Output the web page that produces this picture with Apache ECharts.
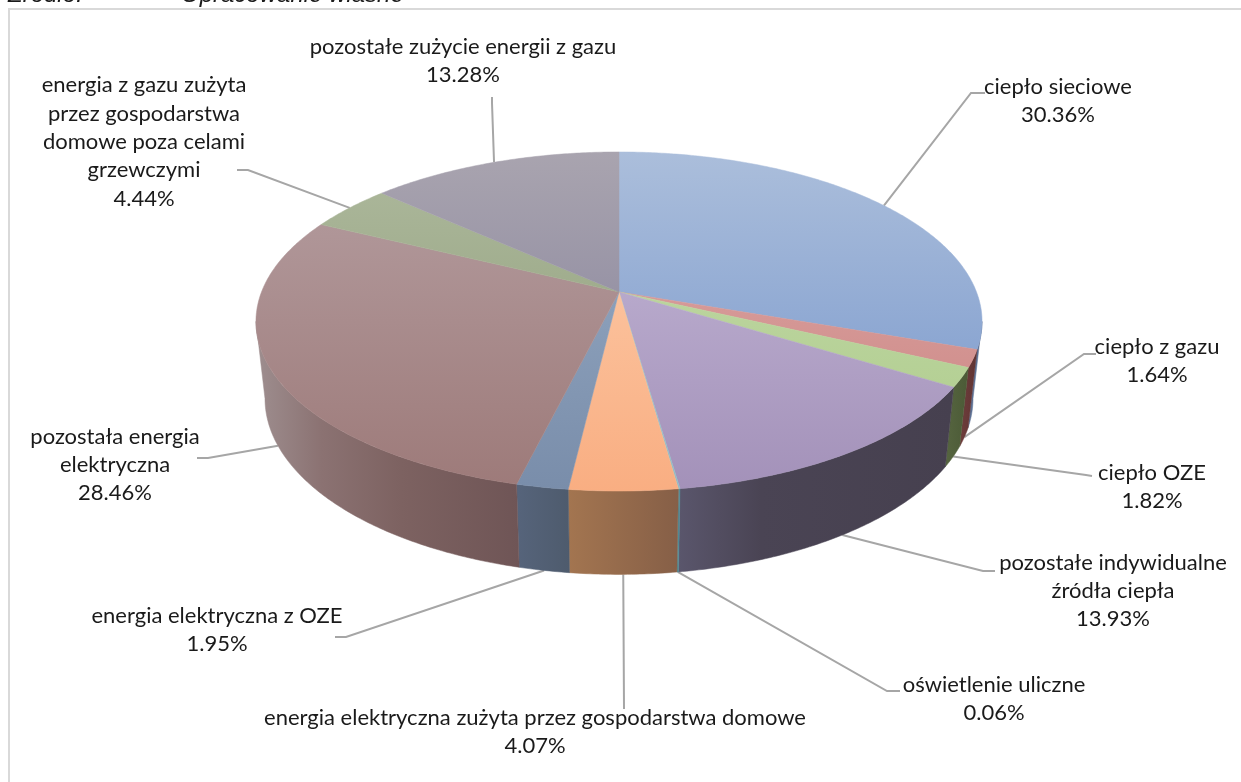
<!DOCTYPE html>
<html>
<head>
<meta charset="utf-8">
<style>
  html, body { margin: 0; padding: 0; background: #fff; overflow: hidden; }
  #chart { width: 1241px; height: 782px; }
</style>
<script src="https://cdn.jsdelivr.net/npm/echarts@6/dist/echarts.min.js"></script>
</head>
<body>
<div id="chart"></div>
<script>
// Udział poszczególnych nośników w zużyciu energii [%]
const categories = [
  'ciepło sieciowe',
  'ciepło z gazu',
  'ciepło OZE',
  'pozostałe indywidualne\nźródła ciepła',
  'oświetlenie uliczne',
  'energia elektryczna zużyta przez gospodarstwa domowe',
  'energia elektryczna z OZE',
  'pozostała energia\nelektryczna',
  'energia z gazu zużyta\nprzez gospodarstwa\ndomowe poza celami\ngrzewczymi',
  'pozostałe zużycie energii z gazu'
];
const shares = [30.36, 1.64, 1.82, 13.93, 0.06, 4.07, 1.95, 28.46, 4.44, 13.28];

// Kolory górnej powierzchni: [góra, dół]
const topColors = [
  ['#abbedb', '#7595cb'], ['#e0aaa9', '#c98380'], ['#c4dbab', '#aecb8b'],
  ['#c5b9d8', '#a391b9'], ['#a5cbd4', '#8fbcc6'], ['#fdcfae', '#f9ae82'],
  ['#99adc6', '#798daa'], ['#b59ea1', '#9d7a79'], ['#aeb99d', '#8b9b76'],
  ['#a9a4af', '#7f7c98']
];
// Kolory ścianki bocznej: punkty przejścia [pozycja, kolor]
const wallStops = [
  [[0, '#5f7396'], [1, '#56698c']],
  [[0, '#6e3d3c'], [1, '#5f3332']],
  [[0, '#566540'], [1, '#4b5a36']],
  [[0, '#5a566c'], [0.3, '#4a4454'], [1, '#46404f']],
  [[0, '#4f8a94'], [1, '#4f8a94']],
  [[0, '#a37550'], [1, '#865f47']],
  [[0, '#56647b'], [1, '#4e5b6d']],
  [[0, '#9e8e8f'], [0.25, '#8b7272'], [0.55, '#7d6261'], [1, '#6f5556']],
  [[0, '#6f7a5e'], [1, '#6f7a5e']],
  [[0, '#66637a'], [1, '#66637a']]
];
// Położenie podpisów i załamania linii odniesienia
const labelCenters = [
  [1058, 101], [1157, 361], [1152, 487], [1113, 591], [994, 699],
  [535, 732], [217, 630], [115, 465], [144, 142], [463, 61]
];
const leaderBends = [
  [[971, 93], [985, 93]], [[1084, 354], [1096, 354]], [[1086, 475], [1092, 476]],
  [[983, 571], [995, 571]], [[887, 691], [900, 691]], [[624, 707], [624, 709]],
  [[346, 637], [335, 637]], [[208, 458], [197, 458]], [[248, 170], [237, 170]],
  [[492, 103], [492, 97]]
];
const leaderOnTopRim = [true, false, false, false, false, false, false, false, true, true];

const FONT = '"Lato", "Open Sans", sans-serif';
const LABEL_SIZE = 22;
const LINE_HEIGHT = 28.4;
const PERSPECTIVE = 0.174;
const CX = 619;
const topFace = { cy: 292, rx: 357.5, ry: 164.4 };
const baseFace = { cy: 368, rx: 348.6, ry: 170.5 };
// Zakres kątów, w którym ścianka boczna jest widoczna
const WALL_FROM = 100 * Math.PI / 180;
const WALL_TO = 260 * Math.PI / 180;

const total = shares.reduce((a, b) => a + b, 0);
const starts = [];
shares.reduce((acc, v, i) => { starts[i] = acc; return acc + v; }, 0);

// Rzut punktu okręgu (kąt mierzony od góry, zgodnie ze wskazówkami zegara)
function project(face, angle) {
  const X = Math.sin(angle), Y = -Math.cos(angle);
  const w = 1 - PERSPECTIVE * Y;
  return [CX + face.rx * X / w, face.cy + face.ry * Y / w];
}
const toAngle = (v) => (v / total) * Math.PI * 2;

function arc(face, from, to) {
  const steps = Math.max(2, Math.ceil((to - from) / 0.01));
  const pts = [];
  for (let s = 0; s <= steps; s++) pts.push(project(face, from + (to - from) * s / steps));
  return pts;
}

const vertical = (c) => ({
  type: 'linear', global: true, x: 0, y: 152, x2: 0, y2: 491,
  colorStops: [{ offset: 0, color: c[0] }, { offset: 1, color: c[1] }]
});
const horizontal = (stops, x0, x1) => ({
  type: 'linear', global: true, x: x0, y: 0, x2: x1, y2: 0,
  colorStops: stops.map(([offset, color]) => ({ offset, color }))
});

// Ścianka boczna wycinka, tylko w przedniej części tortu
function renderWall(params, api) {
  const i = params.dataIndex;
  const from = Math.max(WALL_FROM, toAngle(api.value(0)));
  const to = Math.min(WALL_TO, toAngle(api.value(0) + api.value(1)));
  if (to <= from) return null;
  const upper = arc(topFace, from, to);
  const lower = arc(baseFace, from, to).reverse();
  const xs = upper.concat(lower).map((p) => p[0]);
  const fill = horizontal(wallStops[i], Math.min(...xs), Math.max(...xs));
  return {
    type: 'polygon',
    shape: { points: upper.concat(lower) },
    style: { fill: fill, stroke: fill, lineWidth: 0.5 }
  };
}

// Górna powierzchnia wycinka
function renderTop(params, api) {
  const i = params.dataIndex;
  const from = toAngle(api.value(0)), to = toAngle(api.value(0) + api.value(1));
  const pts = [[CX, topFace.cy]].concat(arc(topFace, from, to));
  const fill = vertical(topColors[i]);
  return {
    type: 'polygon',
    shape: { points: pts },
    style: { fill: fill, stroke: fill, lineWidth: 0.5 }
  };
}

// Linia odniesienia i podpis z wartością
function renderLabel(params, api) {
  const i = params.dataIndex;
  const mid = toAngle(api.value(0) + api.value(1) / 2);
  const anchor = project(leaderOnTopRim[i] ? topFace : baseFace, mid);
  const [lx, ly] = labelCenters[i];
  return {
    type: 'group',
    children: [
      {
        type: 'polyline',
        shape: { points: [anchor].concat(leaderBends[i]) },
        style: { stroke: '#a6a6a6', lineWidth: 2, fill: null }
      },
      {
        type: 'text',
        style: {
          text: categories[i] + '\n' + api.value(1).toFixed(2) + '%',
          x: lx, y: ly,
          align: 'center', verticalAlign: 'middle',
          font: LABEL_SIZE + 'px ' + FONT,
          lineHeight: LINE_HEIGHT,
          fill: '#1a1a1a'
        }
      }
    ]
  };
}

const sliceData = shares.map((v, i) => [starts[i], v]);

const chart = echarts.init(document.getElementById('chart'), null, { renderer: 'canvas' });
chart.setOption({
  animation: false,
  backgroundColor: '#ffffff',
  graphic: [
    {
      type: 'rect', z: 0, silent: true,
      shape: { x: 9, y: 9, width: 1300, height: 900 },
      style: { fill: '#ffffff', stroke: '#d9d9d9', lineWidth: 2 }
    },
    {
      type: 'text', z: 5, silent: true,
      style: { text: 'Źródło:', x: 8, y: -16.5, font: 'italic 24px "Liberation Sans", Arial, sans-serif', fill: '#1a1a1a' }
    },
    {
      type: 'text', z: 5, silent: true,
      style: { text: 'Opracowanie własne', x: 181, y: -16.5, font: 'italic 24px "Liberation Sans", Arial, sans-serif', fill: '#1a1a1a' }
    }
  ],
  series: [
    { type: 'custom', coordinateSystem: 'none', z: 2, renderItem: renderWall, data: sliceData, silent: true },
    { type: 'custom', coordinateSystem: 'none', z: 3, renderItem: renderTop, data: sliceData, silent: true },
    { type: 'custom', coordinateSystem: 'none', z: 1, renderItem: renderLabel, data: sliceData, silent: true }
  ]
});
</script>
</body>
</html>
